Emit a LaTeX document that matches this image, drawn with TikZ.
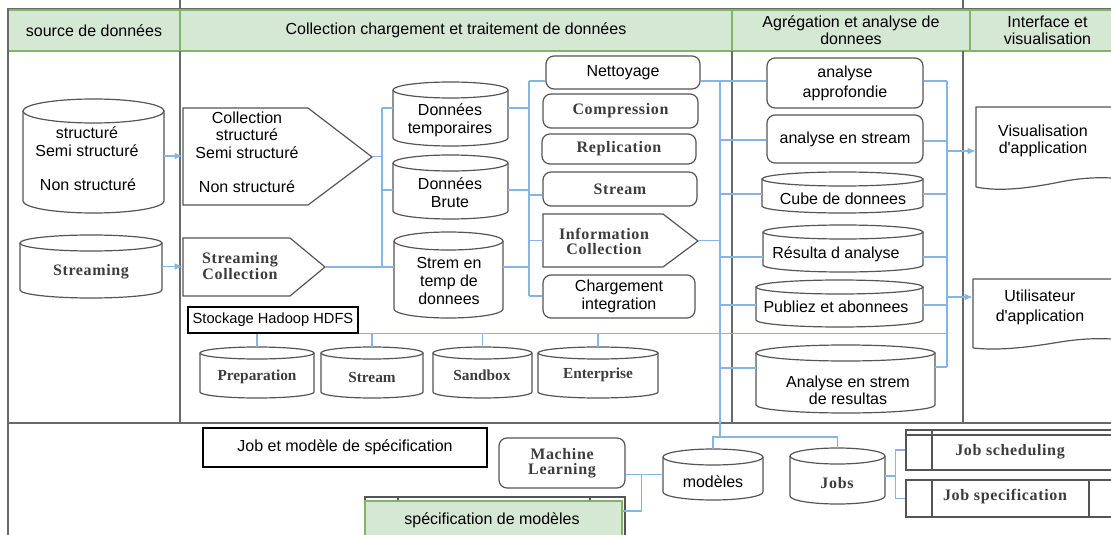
\documentclass[tikz,border=0pt]{standalone}
\usepackage{fontspec}
\setmainfont{Liberation Sans}
\newfontfamily\tnrfont[LetterSpace=4]{Liberation Serif}
\newfontfamily\tnrplain{Liberation Serif}
\usetikzlibrary{fit,arrows.meta,calc}

\definecolor{hdrfill}{RGB}{213,232,212}
\definecolor{hdrline}{RGB}{130,179,102}
\definecolor{framegray}{RGB}{105,105,105}
\definecolor{boxgray}{RGB}{85,85,85}
\definecolor{linkblue}{RGB}{135,180,228}
\definecolor{serifgray}{RGB}{60,60,60}

\tikzset{
  hdrcell/.style={draw=hdrline, fill=hdrfill, line width=1pt, inner sep=0pt, align=center, font=\fontsize{12}{12.5}\selectfont},
  colframe/.style={draw=framegray, line width=1.3pt},
  boxline/.style={draw=boxgray, line width=0.9pt},
  rbox/.style={boxline, rounded corners=6pt, inner sep=0pt, align=center},
  sqbox/.style={draw=black, line width=0.8pt, inner sep=0pt, align=center},
  holder/.style={inner sep=0pt},
  txt/.style={inner sep=0pt, align=center, font=\fontsize{12}{13.5}\selectfont},
  txtserif/.style={inner sep=0pt, align=center, text=serifgray, font=\tnrfont\bfseries\fontsize{12}{11.3}\selectfont},
  txtserifs/.style={inner sep=0pt, align=center, text=serifgray, font=\tnrplain\bfseries\fontsize{11.5}{11}\selectfont},
  linkline/.style={draw=linkblue, line width=0.9pt},
  arrline/.style={linkline, -{Latex[length=6pt,width=5pt]}},
}

% box node spanning a pixel rectangle: style, name, left, top, right, bottom, text
\newcommand\areanode[7]{%
  \pgfmathsetmacro\acx{(#3+#5)/2}%
  \pgfmathsetmacro\acy{(#4+#6)/2}%
  \pgfmathsetmacro\aw{(#5-#3)*0.75}%
  \pgfmathsetmacro\ah{(#6-#4)*0.75}%
  \node[#1, minimum width=\aw pt, minimum height=\ah pt] (#2) at (\acx,\acy) {#7};
}

% storage drum: name, left, top, right, bottom, half height of the lid
\newcommand\datadrum[6]{%
  \pgfmathsetmacro\dcx{(#2+#4)/2}%
  \pgfmathsetmacro\drx{(#4-#2)/2}%
  \node[holder, fit={(#2,#3)(#4,#5)}] (#1) {};
  \draw[boxline] (#2,#3+#6) -- (#2,#5-#6)
     .. controls (#2,#5-0.45*#6) and (\dcx-0.5523*\drx,#5) .. (\dcx,#5)
     .. controls (\dcx+0.5523*\drx,#5) and (#4,#5-0.45*#6) .. (#4,#5-#6)
     -- (#4,#3+#6);
  \draw[boxline] (\dcx,#3+#6) ellipse [x radius=\drx, y radius=#6];
}

\newcommand\apos{\textquotesingle}

\begin{document}
\begin{tikzpicture}[x=0.75pt, y=-0.75pt]
\useasboundingbox (0,0) rectangle (1111,535);
\clip (0,0) rectangle (1111,535);

% ---------- header row ----------
\draw[framegray, line width=0.8pt] (8,8.5) -- (1111,8.5);
\draw[colframe] (180,0) -- (180,10) (963,0) -- (963,10);
\areanode{hdrcell}{h1}{8}{10}{180}{51}{source de données}
\areanode{hdrcell}{h2}{180}{10}{732}{51}{Collection chargement et traitement de données}
\areanode{hdrcell}{h3}{732}{10}{970}{51}{Agrégation et analyse de\\donnees}
\areanode{hdrcell}{h4}{970}{10}{1125}{51}{Interface et\\visualisation}

% ---------- lane frame ----------
\draw[colframe] (8,8.5) -- (8,535);
\draw[colframe] (180,51) -- (180,423);
\draw[colframe] (732,51) -- (732,423);
\draw[colframe] (963,51) -- (963,423);
\draw[colframe] (8,423) -- (1111,423);

% ---------- data sources ----------
\datadrum{src}{23}{99}{164}{213}{12}
\node[txt] (srcA) at (87,142) {structuré\\Semi structuré};
\node[txt] (srcB) at (88,185) {Non structuré};
\datadrum{strm}{20}{235}{162}{298}{8}
\node[txtserif] (strmT) at (91,272) {Streaming};

% ---------- collection ----------
\draw[boxline] (183,108) -- (308,108) -- (372,157) -- (308,205) -- (183,205) -- cycle;
\node[holder, fit={(183,108)(372,205)}] (pentA) {};
\node[txt, font=\fontsize{12}{13.2}\selectfont] (pentAT) at (247,135) {Collection\\structuré\\Semi structuré};
\node[txt] (pentAN) at (247,187) {Non structuré};

\draw[boxline] (183,238) -- (290,238) -- (325,267) -- (290,296) -- (183,296) -- cycle;
\node[holder, fit={(183,238)(325,296)}] (pentB) {};
\node[txtserif] (pentBT) at (240,266) {Streaming\\Collection};

\draw[arrline] (src.east) -- (src.east -| pentA.west);
\draw[arrline] (strm.east) -- (strm.east -| pentB.west);

% ---------- intermediate stores ----------
\datadrum{dt}{393}{82}{508}{146}{8}
\node[txt] (dtT) at (450,120) {Données\\temporaires};
\datadrum{db}{393}{155}{508}{219}{8}
\node[txt] (dbT) at (450,193) {Données\\Brute};
\datadrum{stt}{394}{232}{503}{318}{9}
\node[txt] (sttT) at (449,281) {Strem en\\temp de\\donnees};

\coordinate (b1t) at (382,108);
\coordinate (b1b) at (382,267);
\draw[linkline] (b1t) -- (b1b);
\draw[linkline] (pentA.east) -- (pentA.east -| b1t);
\draw[linkline] (pentB.east) -- (stt.west |- pentB.east);
\draw[linkline] (b1t) -- (b1t -| dt.west);
\draw[linkline] (b1t |- 0,190) -- (db.west |- 0,190);

% ---------- processing steps ----------
\areanode{rbox, txt}{net}{546}{56}{700}{89}{Nettoyage}
\areanode{rbox, txtserif}{comp}{543}{94}{698}{128}{Compression}
\areanode{rbox, txtserif}{repl}{542}{134}{696}{164}{Replication}
\areanode{rbox, txtserif}{strb}{543}{172}{697}{206}{Stream}
\draw[boxline] (543,214) -- (663,214) -- (698,241) -- (663,267) -- (543,267) -- cycle;
\node[holder, fit={(543,214)(698,267)}] (info) {};
\node[txtserif] (infoT) at (604,241) {Information\\Collection};
\areanode{rbox, txt}{charg}{543}{275}{695}{318}{Chargement\\integration}

\coordinate (b2t) at (529,81);
\coordinate (b2b) at (529,296);
\draw[linkline] (b2t) -- (b2b);
\draw[linkline] (dt.east |- 0,108) -- (b2t |- 0,108);
\draw[linkline] (db.east |- 0,190) -- (b2t |- 0,190);
\draw[linkline] (stt.east |- 0,267) -- (b2t |- 0,267);
\draw[linkline] (b2t) -- (net.west |- b2t);
\draw[linkline] (b2t |- 0,195) -- (strb.west |- 0,195);
\draw[linkline] (b2t |- info.west) -- (info.west);
\draw[linkline] (b2b) -- (charg.west |- b2b);

% ---------- Hadoop storage ----------
\areanode{sqbox, txt, font=\fontsize{11}{13}\selectfont}{hdfs}{188}{307}{358}{333}{Stockage Hadoop HDFS}
\datadrum{prep}{200}{347}{314}{398}{6}
\node[txtserifs] (prepT) at (257,377) {Preparation};
\datadrum{hstr}{321}{347}{423}{398}{6}
\node[txtserifs] (hstrT) at (372,377) {Stream};
\datadrum{sand}{433}{347}{532}{398}{6}
\node[txtserifs] (sandT) at (482,375) {Sandbox};
\datadrum{ent}{538}{347}{658}{398}{6}
\node[txtserifs] (entT) at (598,375) {Enterprise};

% ---------- aggregation and analysis ----------
\areanode{rbox, txt, font=\fontsize{12}{15}\selectfont}{aa}{767}{58}{923}{108}{analyse\\approfondie}
\areanode{rbox, txt}{as}{767}{115}{923}{163}{analyse en stream}
\datadrum{cube}{762}{172}{923}{213}{7}
\node[txt] (cubeT) at (843,199) {Cube de donnees};
\datadrum{res}{763}{225}{923}{272}{7}
\node[txt] (resT) at (836,254) {Résulta d analyse};
\datadrum{pub}{756}{280}{923}{327}{7}
\node[txt] (pubT) at (836,307) {Publiez et abonnees};
\datadrum{ares}{756}{345}{935}{413}{8}
\node[txt, font=\fontsize{12}{12.8}\selectfont] (aresT) at (848,390) {Analyse en strem\\de resultas};

\coordinate (b3t) at (720,81);
\coordinate (b3b) at (720,437);
\draw[linkline] (b3t) -- (b3b);
\draw[linkline] (net.east |- b3t) -- (b3t);
\draw[linkline] (info.east) -- (b3t |- info.east);
\draw[linkline] (b3t) -- (aa.west |- b3t);
\draw[linkline] (b3t |- 0,140) -- (as.west |- 0,140);
\draw[linkline] (b3t |- 0,194) -- (cube.west |- 0,194);
\draw[linkline] (b3t |- 0,257) -- (res.west |- 0,257);
\draw[linkline] (b3t |- 0,305) -- (pub.west |- 0,305);
\draw[linkline] (b3t |- 0,368) -- (ares.west |- 0,368);

\coordinate (b4t) at (947,81);
\coordinate (b4b) at (947,367);
\draw[linkline] (b4t) -- (b4b);
\draw[linkline] (aa.east |- b4t) -- (b4t);
\draw[linkline] (as.east |- 0,141) -- (b4t |- 0,141);
\draw[linkline] (cube.east |- 0,194) -- (b4t |- 0,194);
\draw[linkline] (res.east |- 0,257) -- (b4t |- 0,257);
\draw[linkline] (pub.east |- 0,305) -- (b4t |- 0,305);
\draw[linkline] (ares.east |- b4b) -- (b4b);

% storage bus across the lanes
\draw[linkline] (hdfs.south east) -- (b4t |- hdfs.south east);
\foreach \d in {prep,hstr,sand,ent}
  \draw[linkline] (\d.north) -- (\d.north |- hdfs.south);

% ---------- interface and visualisation ----------
\draw[boxline] (976,187) -- (976,107) -- (1125,107) -- (1125,179)
  .. controls (1105,177) and (1085,177) .. (1060,182)
  .. controls (1030,188) and (1000,192) .. (976,187);
\node[holder, fit={(976,107)(1111,187)}] (vis) {};
\node[txt, font=\fontsize{12}{12.8}\selectfont] (visT) at (1043,141) {Visualisation\\d\apos application};

\draw[boxline] (973,348) -- (973,279) -- (1125,279) -- (1125,340)
  .. controls (1105,338) and (1085,338) .. (1060,342)
  .. controls (1030,347) and (1000,351) .. (973,348);
\node[holder, fit={(973,279)(1111,348)}] (user) {};
\node[txt, font=\fontsize{12}{15}\selectfont] (userT) at (1040,307) {Utilisateur\\d\apos application};

\draw[arrline] (b4t |- 0,151) -- (vis.west |- 0,151);
\draw[arrline] (b4t |- 0,297) -- (user.west |- 0,297);

% ---------- jobs and models ----------
\areanode{sqbox, txt}{jobm}{203}{428}{487}{467}{Job et modèle de spécification}
\areanode{rbox, txtserif}{ml}{499}{438}{625}{488}{Machine\\Learning}
\datadrum{mod}{663}{449}{763}{500}{8}
\node[txt] (modT) at (713,482) {modèles};
\datadrum{jobs}{790}{448}{885}{504}{8}
\node[txtserif] (jobsT) at (837,483) {Jobs};

\draw[boxline] (365,497) rectangle (625,545);
\draw[boxline] (398,497) -- (398,501) (590,497) -- (590,501);
\node[holder, draw=hdrline, fill=hdrfill, line width=0.9pt, fit={(365,501)(622,545)}] (spec) {};
\node[txt] (specT) at (492,520) {spécification de modèles};

\coordinate (mlj) at ($(ml.east |- mod.west)+(16,0)$);
\draw[linkline] (ml.east |- mod.west) -- (mod.west);
\draw[linkline] (spec.north east |- 0,511) -| (mlj);
\draw[linkline] (mod.north) -- (mod.north |- b3b) -| (jobs.north);

\node[holder, boxline, fit={(906,430)(1125,470)}] (jsch) {};
\draw[boxline] (906,435) -- (1125,435) (932,430) -- (932,470);
\node[txtserif] (jschT) at (1010,452) {Job scheduling};
\node[holder, boxline, fit={(906,480)(1125,517)}] (jspec) {};
\draw[boxline] (932,480) -- (932,517) (1089,480) -- (1089,517);
\node[txtserif] (jspecT) at (1005,497) {Job specification};

\coordinate (jbus) at ($(jobs.east)+(10,0)$);
\draw[linkline] (jobs.east) -- (jbus);
\draw[linkline] (jsch.west) -| (jbus) |- (jspec.west);
\end{tikzpicture}
\end{document}
